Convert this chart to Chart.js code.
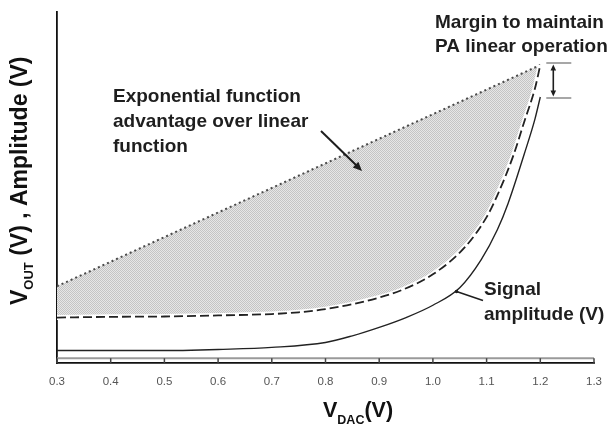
<!DOCTYPE html>
<html>
<head>
<meta charset="utf-8">
<script src="https://cdn.jsdelivr.net/npm/chart.js@4.4.1/dist/chart.umd.min.js"></script>
<style>
  html, body { margin: 0; padding: 0; background: #ffffff; }
  #wrap { width: 608px; height: 427px; }
</style>
</head>
<body>
<div id="wrap"><canvas id="c" width="608" height="427"></canvas></div>
<script>
// ---- data ----
const xTicks = [0.3, 0.4, 0.5, 0.6, 0.7, 0.8, 0.9, 1.0, 1.1, 1.2, 1.3];

// straight linear function (dotted)
const linearX = [0.3, 1.2];
const linearY = [2.19, 8.49];

// exponential V_OUT (dashed)
const expX = [0.3, 0.4, 0.5, 0.6, 0.7, 0.75, 0.8, 0.85, 0.9, 0.94, 1.0, 1.06, 1.1, 1.12, 1.15, 1.17, 1.19, 1.2];
const expY = [1.30, 1.32, 1.33, 1.36, 1.40, 1.45, 1.54, 1.68, 1.87, 2.07, 2.53, 3.31, 4.16, 4.78, 5.92, 6.87, 7.82, 8.49];

// signal amplitude (solid)
const sigX = [0.3, 0.4, 0.5, 0.55, 0.6, 0.7, 0.8, 0.85, 0.9, 0.95, 1.0, 1.05, 1.09, 1.12, 1.14, 1.17, 1.19, 1.2];
const sigY = [0.36, 0.36, 0.36, 0.37, 0.39, 0.45, 0.59, 0.78, 1.02, 1.30, 1.65, 2.15, 2.95, 3.80, 4.55, 5.95, 6.95, 7.58];

const toPts = (xs, ys) => xs.map((x, i) => ({ x: x, y: ys[i] }));

// hatched grey fill pattern
const pc = document.createElement('canvas');
pc.width = 2; pc.height = 2;
const pg = pc.getContext('2d');
pg.fillStyle = '#e6e6e6'; pg.fillRect(0, 0, 2, 2);
pg.fillStyle = '#c4c4c4'; pg.fillRect(0, 0, 1, 1); pg.fillRect(1, 1, 1, 1);
const hatch = pg.createPattern(pc, 'repeat');

function arrowHead(ctx, x1, y1, x2, y2, len, wid) {
  const a = Math.atan2(y2 - y1, x2 - x1);
  ctx.beginPath();
  ctx.moveTo(x2, y2);
  ctx.lineTo(x2 - len * Math.cos(a) + wid * Math.sin(a), y2 - len * Math.sin(a) - wid * Math.cos(a));
  ctx.lineTo(x2 - len * Math.cos(a) - wid * Math.sin(a), y2 - len * Math.sin(a) + wid * Math.cos(a));
  ctx.closePath();
  ctx.fill();
}

function subText(ctx, parts) {
  // parts: [text, size, dy]
  let x = 0;
  parts.forEach(p => {
    ctx.font = 'bold ' + p[1] + 'px "Liberation Sans", Arial, sans-serif';
    ctx.fillText(p[0], x, p[2]);
    x += ctx.measureText(p[0]).width;
  });
}

const annot = {
  id: 'annot',
  beforeDatasetsDraw(chart) {
    const { ctx, chartArea: ca, scales: { x } } = chart;
    ctx.save();
    ctx.strokeStyle = '#9a9a9a';
    ctx.lineWidth = 2;
    ctx.beginPath();
    ctx.moveTo(ca.left, ca.bottom - 5);
    ctx.lineTo(ca.right, ca.bottom - 5);
    ctx.stroke();
    ctx.strokeStyle = '#444';
    ctx.lineWidth = 1.5;
    xTicks.forEach(v => {
      const px = x.getPixelForValue(v);
      ctx.beginPath();
      ctx.moveTo(px, ca.bottom - 5);
      ctx.lineTo(px, ca.bottom);
      ctx.stroke();
    });
    ctx.restore();
  },
  afterDraw(chart) {
    const { ctx, scales: { x, y } } = chart;
    ctx.save();
    ctx.fillStyle = '#1e1e1e';
    ctx.strokeStyle = '#1e1e1e';
    ctx.textBaseline = 'alphabetic';
    ctx.textAlign = 'left';
    ctx.font = 'bold 19px "Liberation Sans", Arial, sans-serif';

    // annotation texts
    ctx.fillText('Exponential function', 113, 102);
    ctx.fillText('advantage over linear', 113, 127);
    ctx.fillText('function', 113, 152);
    ctx.fillText('Margin to maintain', 435, 28);
    ctx.fillText('PA linear operation', 435, 52);
    ctx.fillText('Signal', 484, 295);
    ctx.fillText('amplitude (V)', 484, 320);

    // arrow into the shaded area
    ctx.lineWidth = 2;
    ctx.beginPath();
    ctx.moveTo(321, 131);
    ctx.lineTo(356, 165);
    ctx.stroke();
    arrowHead(ctx, 321, 131, 362, 171, 9, 4);

    // signal leader line
    const sx = x.getPixelForValue(1.044), sy = 291.5;
    ctx.lineWidth = 1.5;
    ctx.beginPath();
    ctx.moveTo(sx, sy);
    ctx.lineTo(483, 300.5);
    ctx.stroke();
    ctx.beginPath();
    ctx.arc(sx, sy, 1.8, 0, Math.PI * 2);
    ctx.fill();

    // margin bracket
    const yTop = y.getPixelForValue(linearY[1]) - 2;
    const yBot = y.getPixelForValue(sigY[sigY.length - 1]) + 1;
    const bx = x.getPixelForValue(1.2);
    ctx.strokeStyle = '#8a8a8a';
    ctx.lineWidth = 1.5;
    ctx.beginPath();
    ctx.moveTo(bx + 6, yTop); ctx.lineTo(bx + 31, yTop);
    ctx.moveTo(bx + 6, yBot); ctx.lineTo(bx + 31, yBot);
    ctx.stroke();
    ctx.strokeStyle = '#1e1e1e';
    ctx.lineWidth = 1.6;
    ctx.beginPath();
    ctx.moveTo(bx + 13, yTop + 5); ctx.lineTo(bx + 13, yBot - 5);
    ctx.stroke();
    arrowHead(ctx, bx + 13, yBot, bx + 13, yTop + 1.5, 6, 2.8);
    arrowHead(ctx, bx + 13, yTop, bx + 13, yBot - 1.5, 6, 2.8);

    // axis titles
    ctx.fillStyle = '#111';
    ctx.save();
    ctx.translate(27, 305);
    ctx.rotate(-Math.PI / 2);
    subText(ctx, [['V', 23, 0], ['OUT', 13, 6], [' (V) , Amplitude (V)', 23, 0]]);
    ctx.restore();

    ctx.save();
    ctx.translate(323, 417);
    subText(ctx, [['V', 21.5, 0], ['DAC', 12.5, 7], ['(V)', 21.5, 0]]);
    ctx.restore();

    ctx.restore();
  }
};

new Chart(document.getElementById('c'), {
  type: 'line',
  data: {
    datasets: [
      {
        label: 'Signal amplitude (V)',
        data: toPts(sigX, sigY),
        borderColor: '#222',
        borderWidth: 1.4,
        pointRadius: 0,
        cubicInterpolationMode: 'monotone',
        fill: false
      },
      {
        label: 'Exponential V_OUT',
        data: toPts(expX, expY),
        borderColor: '#222',
        borderWidth: 1.8,
        borderDash: [9, 4],
        pointRadius: 0,
        cubicInterpolationMode: 'monotone',
        fill: false
      },
      {
        label: 'halo',
        data: toPts(expX, expY),
        borderColor: '#ffffff',
        borderWidth: 5,
        pointRadius: 0,
        cubicInterpolationMode: 'monotone',
        fill: false
      },
      {
        label: 'Linear function',
        data: toPts(linearX, linearY),
        borderColor: '#4a4a4a',
        borderWidth: 2,
        borderDash: [2, 3],
        pointRadius: 0,
        fill: 1,
        backgroundColor: hatch
      }
    ]
  },
  options: {
    responsive: false,
    animation: false,
    events: [],
    layout: { padding: { left: 57, right: 14, top: 12, bottom: 26 } },
    plugins: {
      legend: { display: false },
      tooltip: { enabled: false },
      filler: { propagate: false }
    },
    scales: {
      x: {
        type: 'linear',
        min: xTicks[0],
        max: xTicks[xTicks.length - 1],
        afterBuildTicks: s => { s.ticks = xTicks.map(v => ({ value: v })); },
        afterFit: s => { s.paddingLeft = 0; s.paddingRight = 0; },
        grid: { display: false, drawTicks: false },
        border: { display: true, color: '#111', width: 1.8 },
        ticks: {
          padding: 12,
          color: '#555',
          font: { family: '"Liberation Sans", Arial, sans-serif', size: 11.5 },
          callback: v => Number(v).toFixed(1),
          maxRotation: 0,
          autoSkip: false
        }
      },
      y: {
        type: 'linear',
        min: 0,
        max: 10,
        grid: { display: false, drawTicks: false },
        border: { display: true, color: '#111', width: 1.8 },
        ticks: { display: false }
      }
    }
  },
  plugins: [annot]
});
</script>
</body>
</html>
